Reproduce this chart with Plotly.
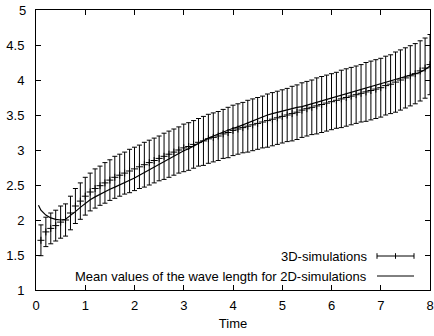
import plotly.graph_objects as go

# ---- data ----
x3d = [round(0.1 * i, 1) for i in range(1, 81)]
y3d = [1.71, 1.83, 1.88, 1.92, 1.97, 2.00, 2.10, 2.20, 2.27, 2.34,
       2.40, 2.45, 2.49, 2.53, 2.57, 2.61, 2.64, 2.67, 2.70, 2.73,
       2.76, 2.79, 2.82, 2.85, 2.88, 2.91, 2.94, 2.97, 3.00, 3.03,
       3.05, 3.08, 3.11, 3.13, 3.16, 3.18, 3.20, 3.23, 3.25, 3.28,
       3.30, 3.32, 3.34, 3.36, 3.38, 3.40, 3.42, 3.44, 3.46, 3.48,
       3.50, 3.52, 3.54, 3.57, 3.59, 3.61, 3.63, 3.65, 3.67, 3.69,
       3.71, 3.73, 3.75, 3.77, 3.79, 3.81, 3.83, 3.85, 3.87, 3.89,
       3.92, 3.94, 3.97, 4.00, 4.03, 4.06, 4.09, 4.13, 4.17, 4.22]
err3d = [0.22, 0.21, 0.22, 0.22, 0.23, 0.23, 0.24, 0.25, 0.26, 0.27,
         0.27, 0.28, 0.28, 0.29, 0.29, 0.30, 0.30, 0.30, 0.31, 0.31,
         0.31, 0.32, 0.32, 0.32, 0.32, 0.33, 0.33, 0.33, 0.33, 0.34,
         0.34, 0.34, 0.34, 0.35, 0.35, 0.35, 0.35, 0.35, 0.36, 0.36,
         0.36, 0.36, 0.37, 0.37, 0.37, 0.37, 0.38, 0.38, 0.38, 0.38,
         0.38, 0.39, 0.39, 0.39, 0.39, 0.39, 0.40, 0.40, 0.40, 0.40,
         0.40, 0.41, 0.41, 0.41, 0.41, 0.41, 0.42, 0.42, 0.42, 0.42,
         0.42, 0.42, 0.43, 0.43, 0.43, 0.43, 0.43, 0.43, 0.43, 0.43]

x2d = [0.05] + [round(0.1 * i, 1) for i in range(1, 81)]
y2d = [2.21, 2.14, 2.07, 2.03, 2.01, 2.00, 2.01, 2.06, 2.12, 2.18, 2.24,
       2.29, 2.33, 2.37, 2.41, 2.44, 2.47, 2.50, 2.53, 2.56, 2.60,
       2.64, 2.68, 2.72, 2.76, 2.80, 2.84, 2.88, 2.92, 2.96, 2.99,
       3.02, 3.06, 3.10, 3.14, 3.17, 3.20, 3.23, 3.26, 3.29, 3.31,
       3.33, 3.36, 3.39, 3.42, 3.45, 3.48, 3.50, 3.52, 3.54, 3.56,
       3.58, 3.59, 3.61, 3.62, 3.64, 3.66, 3.68, 3.70, 3.72, 3.74,
       3.76, 3.78, 3.80, 3.82, 3.84, 3.86, 3.88, 3.90, 3.92, 3.94,
       3.96, 3.98, 4.00, 4.02, 4.04, 4.06, 4.08, 4.11, 4.15, 4.20]

xticks = [0, 1, 2, 3, 4, 5, 6, 7, 8]
yticks = [1, 1.5, 2, 2.5, 3, 3.5, 4, 4.5, 5]
label3d = "3D-simulations"
label2d = "Mean values of the wave length for 2D-simulations"
xtitle = "Time"

FONT = "Liberation Sans, Arial, sans-serif"
YMIN, YMAX = yticks[0], yticks[-1]

fig = go.Figure()
fig.add_trace(go.Scatter(
    x=x3d, y=y3d, mode="markers", name=label3d,
    marker=dict(symbol="cross-thin", size=5, line=dict(color="black", width=1)),
    error_y=dict(type="data", array=err3d, visible=True, color="black",
                 thickness=1, width=2.5),
    showlegend=False,
))
fig.add_trace(go.Scatter(
    x=x2d, y=y2d, mode="lines", name=label2d,
    line=dict(color="black", width=1.2),
    showlegend=False,
))

axis_common = dict(
    showline=True, linecolor="black", linewidth=1, mirror="ticks",
    ticks="inside", ticklen=5, tickcolor="black", tickwidth=1,
    showgrid=False, zeroline=False, automargin=False,
    ticklabeloverflow="allow",
    tickfont=dict(family=FONT, size=13, color="black"),
)
fig.update_xaxes(range=[0, 8], tickvals=xticks, ticktext=[str(v) for v in xticks],
                 title=dict(text=xtitle, font=dict(family=FONT, size=13, color="black"),
                            standoff=7),
                 ticklabelstandoff=3, **axis_common)
# the top tick label is written as a paper-referenced annotation (plotly drops it at the edge)
fig.update_yaxes(range=[YMIN, YMAX], tickvals=yticks,
                 ticktext=[f"{v:g}" if v != YMAX else "" for v in yticks],
                 ticklabelstandoff=8, **axis_common)
fig.add_annotation(x=0, xref="paper", y=1, yref="paper", text=f"{YMAX:g}",
                   showarrow=False, xanchor="right", yanchor="middle", xshift=-8,
                   font=dict(family=FONT, size=13, color="black"))

# gnuplot-style legend (text right, key on the right)
kx0, kx1 = (377 - 36) / 394, (414 - 36) / 394
tx = (369 - 36) / 394
ly1 = (290 - 256) / 280
ly2 = (290 - 276) / 280
fig.add_annotation(x=tx, y=ly1, xref="paper", yref="paper", text=label3d,
                   showarrow=False, xanchor="right", yanchor="middle",
                   font=dict(family=FONT, size=13, color="black"))
fig.add_annotation(x=tx, y=ly2, xref="paper", yref="paper", text=label2d,
                   showarrow=False, xanchor="right", yanchor="middle",
                   font=dict(family=FONT, size=13, color="black"))
fig.add_shape(type="line", xref="paper", yref="paper", x0=kx0, x1=kx1, y0=ly1, y1=ly1,
              line=dict(color="black", width=1))
for kx in (kx0, kx1, (kx0 + kx1) / 2):
    fig.add_shape(type="line", xref="paper", yref="paper", x0=kx, x1=kx,
                  y0=ly1 - 0.01, y1=ly1 + 0.01, line=dict(color="black", width=1))
fig.add_shape(type="line", xref="paper", yref="paper", x0=kx0, x1=kx1, y0=ly2, y1=ly2,
              line=dict(color="black", width=1))

fig.update_layout(
    width=434, height=336,
    margin=dict(l=36, r=4, t=10, b=46),
    paper_bgcolor="white", plot_bgcolor="white",
    font=dict(family=FONT, size=13, color="black"),
)

fig.write_html("out.html", config={"displayModeBar": False},
               post_script="document.body.style.margin='0';document.body.style.overflow='hidden';")
